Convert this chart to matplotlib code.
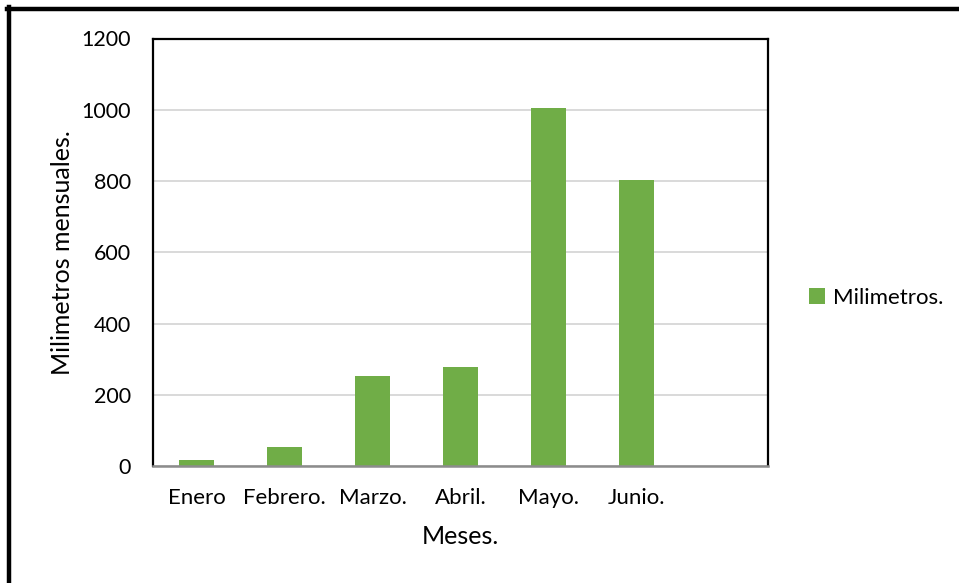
import matplotlib
matplotlib.use("Agg")
import matplotlib.pyplot as plt
from matplotlib.lines import Line2D

months = ["Enero", "Febrero.", "Marzo.", "Abril.", "Mayo.", "Junio.", ""]
millimetres = [17, 54, 252, 277, 1005, 803, 0]
y_ticks = [0, 200, 400, 600, 800, 1000, 1200]

plt.rcParams["font.family"] = ["Lato", "DejaVu Sans"]

fig = plt.figure(figsize=(9.59, 5.83), dpi=100)
ax = fig.add_axes([153 / 959, 1 - 466 / 583, (768 - 153) / 959, (466 - 38.5) / 583])

x = list(range(len(months)))
ax.bar(x[:6], millimetres[:6], width=0.4, color="#70AD47", label="Milimetros.", zorder=3)

ax.set_xlim(-0.5, len(months) - 0.5)
ax.set_ylim(0, 1200)
ax.set_yticks(y_ticks)
ax.set_xticks(x)
ax.set_xticklabels(months)
ax.tick_params(axis="x", length=0, labelsize=16, pad=16)
ax.tick_params(axis="y", length=0, labelsize=15.5, pad=16)
ax.yaxis.grid(True, color="#d9d9d9", linewidth=1.4, zorder=0)
ax.set_axisbelow(True)

for side in ["left", "top", "right"]:
    ax.spines[side].set_color("black")
    ax.spines[side].set_linewidth(1.6)
ax.spines["bottom"].set_color("#8c8c8c")
ax.spines["bottom"].set_linewidth(1.8)
ax.spines["bottom"].set_zorder(4)

ax.set_xlabel("Meses.", fontsize=18, labelpad=12)
ax.set_ylabel("Milimetros mensuales.", fontsize=18, labelpad=5)

fig.legend(loc="center left", bbox_to_anchor=(789 / 959, 1 - 298 / 583),
           frameon=False, fontsize=16, handlelength=0.7, handleheight=0.7,
           handletextpad=0.4)

# outer frame (top and left only)
fig.add_artist(Line2D([7 / 959, 1], [1 - 9 / 583, 1 - 9 / 583], color="black", linewidth=3.2,
                      transform=fig.transFigure))
fig.add_artist(Line2D([9 / 959, 9 / 959], [0, 1 - 7 / 583], color="black", linewidth=3.2,
                      transform=fig.transFigure))

fig.savefig("out.png", dpi=100)
